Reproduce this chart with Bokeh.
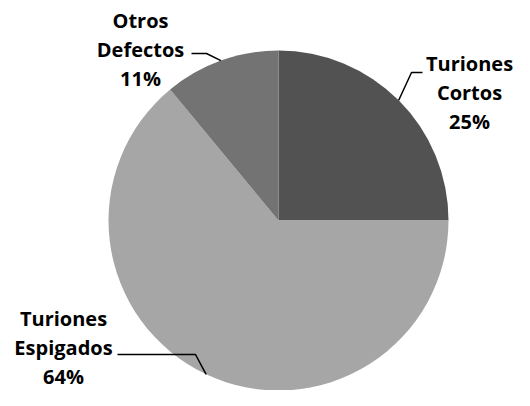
import math
from bokeh.plotting import figure
from bokeh.models import Range1d, ColumnDataSource
from bokeh.core.properties import value
from bokeh.embed import file_html
from bokeh.resources import INLINE

# ---- data ----
categories = ["Turiones Cortos", "Turiones Espigados", "Otros Defectos"]
shares = [25, 64, 11]
colors = ["#525252", "#a6a6a6", "#737373"]

# ---- layout (frame pixels; data y = TOP - screen y) ----
W, H = 514, 390
TOP = 406
cx, cy, R = 278, TOP - 220, 170
# label centre x, first line centre y, line gap (screen px)
label_x = [469, 63, 140]
label_y0 = [63, 318, 20]
line_gap = 29
# leader polyline: elbow and end (screen px)
leaders = [((411, 72), (422, 72)), ((195, 354), (117, 354)), ((206, 53), (191, 53))]

total = sum(shares)
starts, ends, mids = [], [], []
acc = 0.0
for s in shares:
    a0 = math.pi / 2 - 2 * math.pi * acc / total
    acc += s
    a1 = math.pi / 2 - 2 * math.pi * acc / total
    starts.append(a0)
    ends.append(a1)
    mids.append((a0 + a1) / 2)

p = figure(width=W, height=H, output_backend="svg", toolbar_location=None,
           x_range=Range1d(0, W), y_range=Range1d(TOP - H, TOP),
           min_border=0)
p.axis.visible = False
p.grid.visible = False
p.outline_line_color = None
p.background_fill_color = "white"

src = ColumnDataSource(dict(start=starts, end=ends, color=colors))
p.wedge(x=cx, y=cy, radius=R, start_angle="start", end_angle="end",
        direction="clock", fill_color="color", line_color=None, source=src)

# leader lines from the slice's mid-angle on the rim
for m, (e1, e2) in zip(mids, leaders):
    ex = cx + R * math.cos(m)
    ey = cy + R * math.sin(m)
    p.line([ex, e1[0], e2[0]], [ey, TOP - e1[1], TOP - e2[1]],
           line_color="black", line_width=1.5)

tx, ty, tt = [], [], []
for c, s, x0, y0 in zip(categories, shares, label_x, label_y0):
    lines = c.split(" ") + [f"{s}%"]
    for i, t in enumerate(lines):
        tx.append(x0)
        ty.append(TOP - (y0 + i * line_gap))
        tt.append(t)
p.text(x=tx, y=ty, text=tt, text_align="center", text_baseline="middle",
       text_font=value("Open Sans"), text_font_style="bold", text_font_size="20px",
       text_color="black")

open("out.html", "w").write(file_html(p, INLINE))
